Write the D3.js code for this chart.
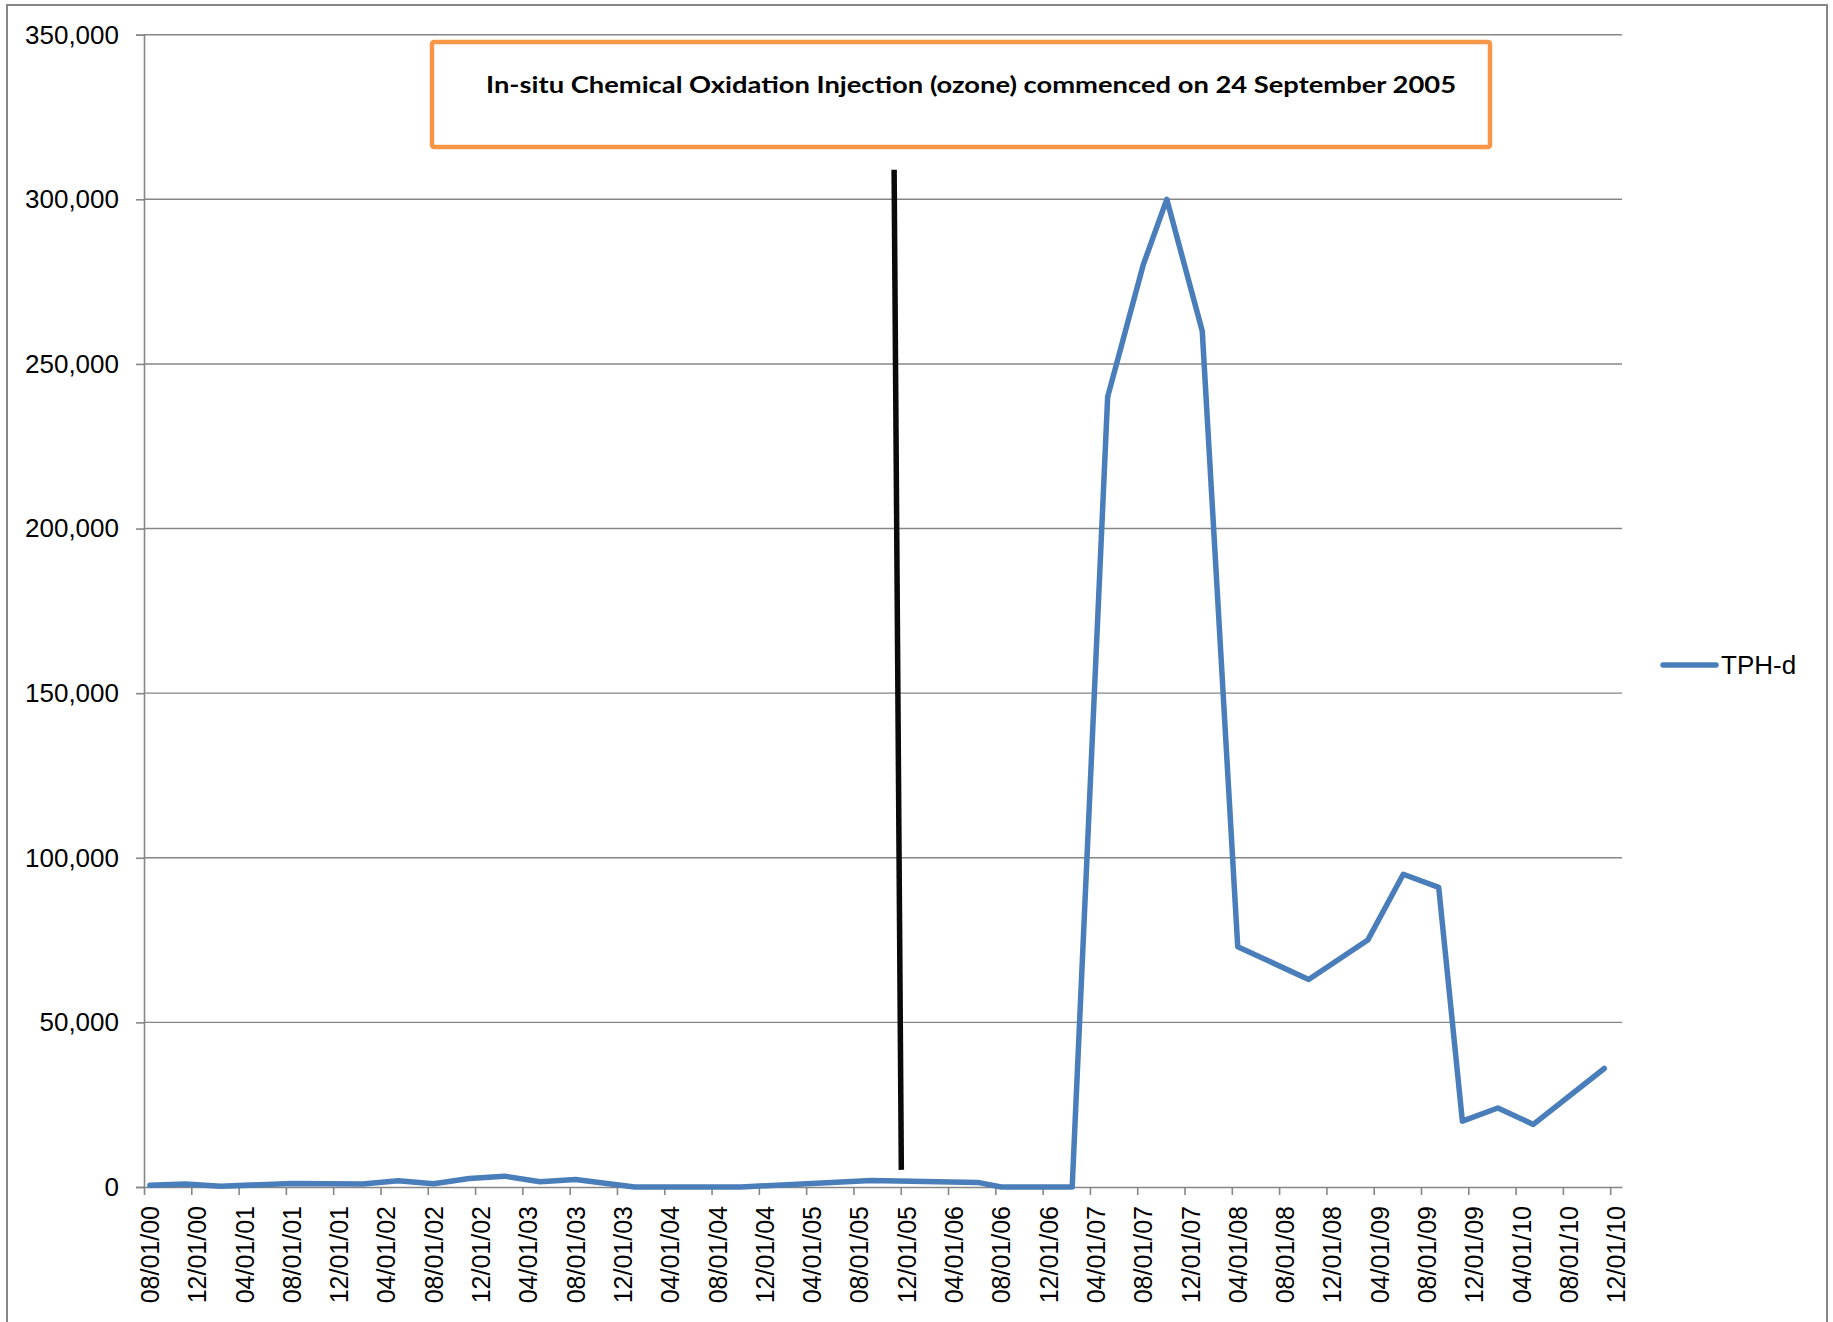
<!DOCTYPE html>
<html>
<head>
<meta charset="utf-8">
<script src="https://cdn.jsdelivr.net/npm/d3@7"></script>
<style>
  html, body { margin: 0; padding: 0; background: #ffffff; }
  svg { display: block; }
</style>
</head>
<body>
<svg id="chart" width="1833" height="1322"></svg>
<script>
// ---- DATA ----
const seriesName = "TPH-d";
// sample dates (year-month) and TPH-d values
const sampleDates = [
  "2000-08","2000-11","2001-02","2001-08","2002-02","2002-05","2002-08","2002-11",
  "2003-02","2003-05","2003-08","2004-01","2004-10","2005-09","2006-06","2006-08",
  "2007-02","2007-05","2007-08","2007-10","2008-01","2008-04","2008-10","2009-03",
  "2009-06","2009-09","2009-11","2010-02","2010-05","2010-11"
];
const tphValues = [
  500, 900, 200, 1100, 900, 1900, 1000, 2600,
  3300, 1600, 2300, 0, 0, 2000, 1400, 0,
  0, 240000, 280000, 300000, 260000, 73000, 63000, 75000,
  95000, 91000, 20000, 24000, 19000, 36000
];
const xTickLabels = [
  "08/01/00","12/01/00","04/01/01","08/01/01","12/01/01","04/01/02","08/01/02","12/01/02",
  "04/01/03","08/01/03","12/01/03","04/01/04","08/01/04","12/01/04","04/01/05","08/01/05",
  "12/01/05","04/01/06","08/01/06","12/01/06","04/01/07","08/01/07","12/01/07","04/01/08",
  "08/01/08","12/01/08","04/01/09","08/01/09","12/01/09","04/01/10","08/01/10","12/01/10"
];
const yTickValues = [0, 50000, 100000, 150000, 200000, 250000, 300000, 350000];
const annotationText = "In-situ Chemical Oxidation Injection (ozone) commenced on 24 September 2005";
// marker line endpoints in data units: [month index, value]
const markerLine = [[63.44, 309000], [64.05, 5200]];

// ---- LAYOUT ----
const plot = { left: 144, right: 1622, top: 34.7, bottom: 1187 };
const axisStart = { year: 2000, month: 8 };
const monthsSpan = 125;
const font = "'Liberation Sans', Arial, sans-serif";
const gray = "#868686";
const blue = "#4A7EBB";

function monthIndex(s) {
  const [y, m] = s.split("-").map(Number);
  return (y - axisStart.year) * 12 + (m - axisStart.month);
}

const data = sampleDates.map((d, i) => ({ m: monthIndex(d) + 0.5, v: tphValues[i] }));

const x = d3.scaleLinear().domain([0, monthsSpan]).range([plot.left, plot.right]);
const y = d3.scaleLinear().domain([0, 350000]).range([plot.bottom, plot.top]);

const svg = d3.select("#chart");

// outer chart border
svg.append("rect")
  .attr("x", 7).attr("y", 5).attr("width", 1820).attr("height", 1340)
  .attr("fill", "#ffffff").attr("stroke", gray).attr("stroke-width", 2);

// gridlines
svg.append("g")
  .selectAll("line")
  .data(yTickValues.filter(v => v > 0))
  .join("line")
  .attr("x1", plot.left).attr("x2", plot.right)
  .attr("y1", d => y(d)).attr("y2", d => y(d))
  .attr("stroke", gray).attr("stroke-width", 1.4);

// y axis
const yAxis = d3.axisLeft(y)
  .tickValues(yTickValues)
  .tickFormat(d3.format(","))
  .tickSize(8)
  .tickPadding(17);
const gy = svg.append("g").attr("transform", `translate(${plot.left},0)`).call(yAxis);
gy.select(".domain").attr("stroke", gray).attr("stroke-width", 1.6);
gy.selectAll(".tick line").attr("stroke", gray).attr("stroke-width", 1.6);
gy.selectAll(".tick text")
  .attr("fill", "#000").style("font-family", font).style("font-size", "26px");

// x axis
const xTickValues = xTickLabels.map((_, i) => i * 4);
const xAxis = d3.axisBottom(x)
  .tickValues(xTickValues)
  .tickFormat((d, i) => xTickLabels[i])
  .tickSize(8)
  .tickSizeOuter(0);
const gx = svg.append("g").attr("transform", `translate(0,${plot.bottom})`).call(xAxis);
gx.select(".domain").attr("stroke", gray).attr("stroke-width", 1.6);
gx.selectAll(".tick line").attr("stroke", gray).attr("stroke-width", 1.6);
gx.selectAll(".tick text")
  .attr("fill", "#000")
  .style("font-family", font).style("font-size", "25px")
  .attr("x", -19).attr("y", 0).attr("dy", "0.58em")
  .attr("transform", "rotate(-90)")
  .style("text-anchor", "end");

// black marker line
svg.append("line")
  .attr("x1", x(markerLine[0][0])).attr("y1", y(markerLine[0][1]))
  .attr("x2", x(markerLine[1][0])).attr("y2", y(markerLine[1][1]))
  .attr("stroke", "#0a0a0a").attr("stroke-width", 5.5);

// series line
const line = d3.line().x(d => x(d.m)).y(d => y(d.v));
svg.append("path")
  .datum(data)
  .attr("d", line)
  .attr("fill", "none")
  .attr("stroke", blue)
  .attr("stroke-width", 5.5)
  .attr("stroke-linejoin", "round")
  .attr("stroke-linecap", "round");

// annotation box
svg.append("rect")
  .attr("x", 432).attr("y", 42).attr("width", 1058).attr("height", 105)
  .attr("rx", 2)
  .attr("fill", "#ffffff").attr("stroke", "#F79646").attr("stroke-width", 4.5);
svg.append("text")
  .attr("x", 486).attr("y", 93)
  .attr("textLength", 970).attr("lengthAdjust", "spacingAndGlyphs")
  .style("font-family", "Lato, 'Open Sans', sans-serif")
  .style("font-weight", "bold").style("font-size", "23px")
  .attr("fill", "#000")
  .text(annotationText);

// legend
svg.append("line")
  .attr("x1", 1663).attr("x2", 1716).attr("y1", 665).attr("y2", 665)
  .attr("stroke", blue).attr("stroke-width", 5.5).attr("stroke-linecap", "round");
svg.append("text")
  .attr("x", 1721).attr("y", 665).attr("dy", "0.35em")
  .style("font-family", font).style("font-size", "26px")
  .attr("fill", "#000")
  .text(seriesName);
</script>
</body>
</html>
